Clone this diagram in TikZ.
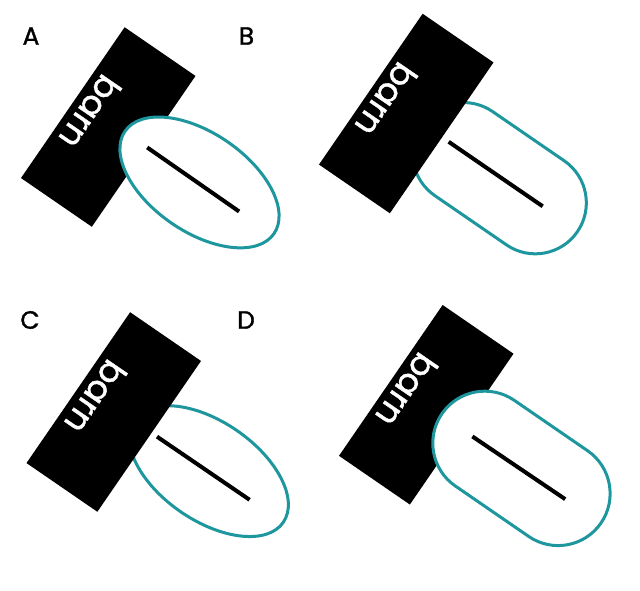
\documentclass[tikz,border=0pt]{standalone}
\usepackage{fontspec}
\setmainfont{Poppins}
\newfontfamily\heavyfont[FakeBold=1.2]{Poppins}
\definecolor{tealc}{RGB}{30,150,158}
\begin{document}
\begin{tikzpicture}[x=1pt,y=1pt,
  barnrect/.style={fill=black},
  barnlbl/.style={text=white, font=\heavyfont\fontsize{34}{34}\selectfont, rotate=-124.5, inner sep=0pt},
  tealshape/.style={draw=tealc, line width=3pt, fill=white},
  stickline/.style={draw=black, line width=4pt},
  panellbl/.style={font=\heavyfont\fontsize{25}{25}\selectfont, inner sep=0pt}]
\useasboundingbox (0,0) rectangle (640,-590);
% labels
\node[panellbl] (labA) at (31,-36) {A};
\node[panellbl] (labB) at (246.5,-36) {B};
\node[panellbl] (labC) at (30,-320) {C};
\node[panellbl] (labD) at (246,-320) {D};
% Panel A
\begin{scope}[shift={(108.25,-127)},rotate=-34.5]
  \fill[barnrect] (-43,-91.5) rectangle (43,91.5);
  \node[barnlbl] (barnA) at (-23,2) {barn};
  \draw[tealshape] (106.6,6) ellipse [x radius=90.4, y radius=49.4];
  \coordinate (a1) at (43.7,5.2);
  \coordinate (a2) at (155.7,4.5);
  \draw[stickline] (a1) -- (a2);
\end{scope}
% Panel B
\begin{scope}[shift={(406.25,-113.5)},rotate=-34.5]
  \draw[tealshape] (70,-51.5) -- (157,-51.5) arc[start angle=-90,end angle=90,radius=51]
     -- (70,50.5) arc[start angle=90,end angle=270,radius=51] -- cycle;
  \fill[barnrect] (-43,-91.5) rectangle (43,91.5);
  \node[barnlbl] (barnB) at (-24,0) {barn};
  \coordinate (b1) at (51,0.7);
  \coordinate (b2) at (165,0.8);
  \draw[stickline] (b1) -- (b2);
\end{scope}
% Panel C
\begin{scope}[shift={(113.75,-412)},rotate=-34.5]
  \draw[tealshape] (111.8,5.1) ellipse [x radius=90.4, y radius=49.4];
  \fill[barnrect] (-43,-91.5) rectangle (43,91.5);
  \node[barnlbl] (barnC) at (-23,2) {barn};
  \coordinate (c1) at (49.6,4.2);
  \coordinate (c2) at (161.7,4.6);
  \draw[stickline] (c1) -- (c2);
\end{scope}
% Panel D
\begin{scope}[shift={(426.25,-404.75)},rotate=-34.5]
  \fill[barnrect] (-43,-91.5) rectangle (43,91.5);
  \node[barnlbl] (barnD) at (-24,1) {barn};
  \draw[tealshape] (70,-50.5) -- (159,-50.5) arc[start angle=-90,end angle=90,radius=52]
     -- (70,53.5) arc[start angle=90,end angle=270,radius=52] -- cycle;
  \coordinate (d1) at (56,0);
  \coordinate (d2) at (168,0.9);
  \draw[stickline] (d1) -- (d2);
\end{scope}
\end{tikzpicture}
\end{document}
